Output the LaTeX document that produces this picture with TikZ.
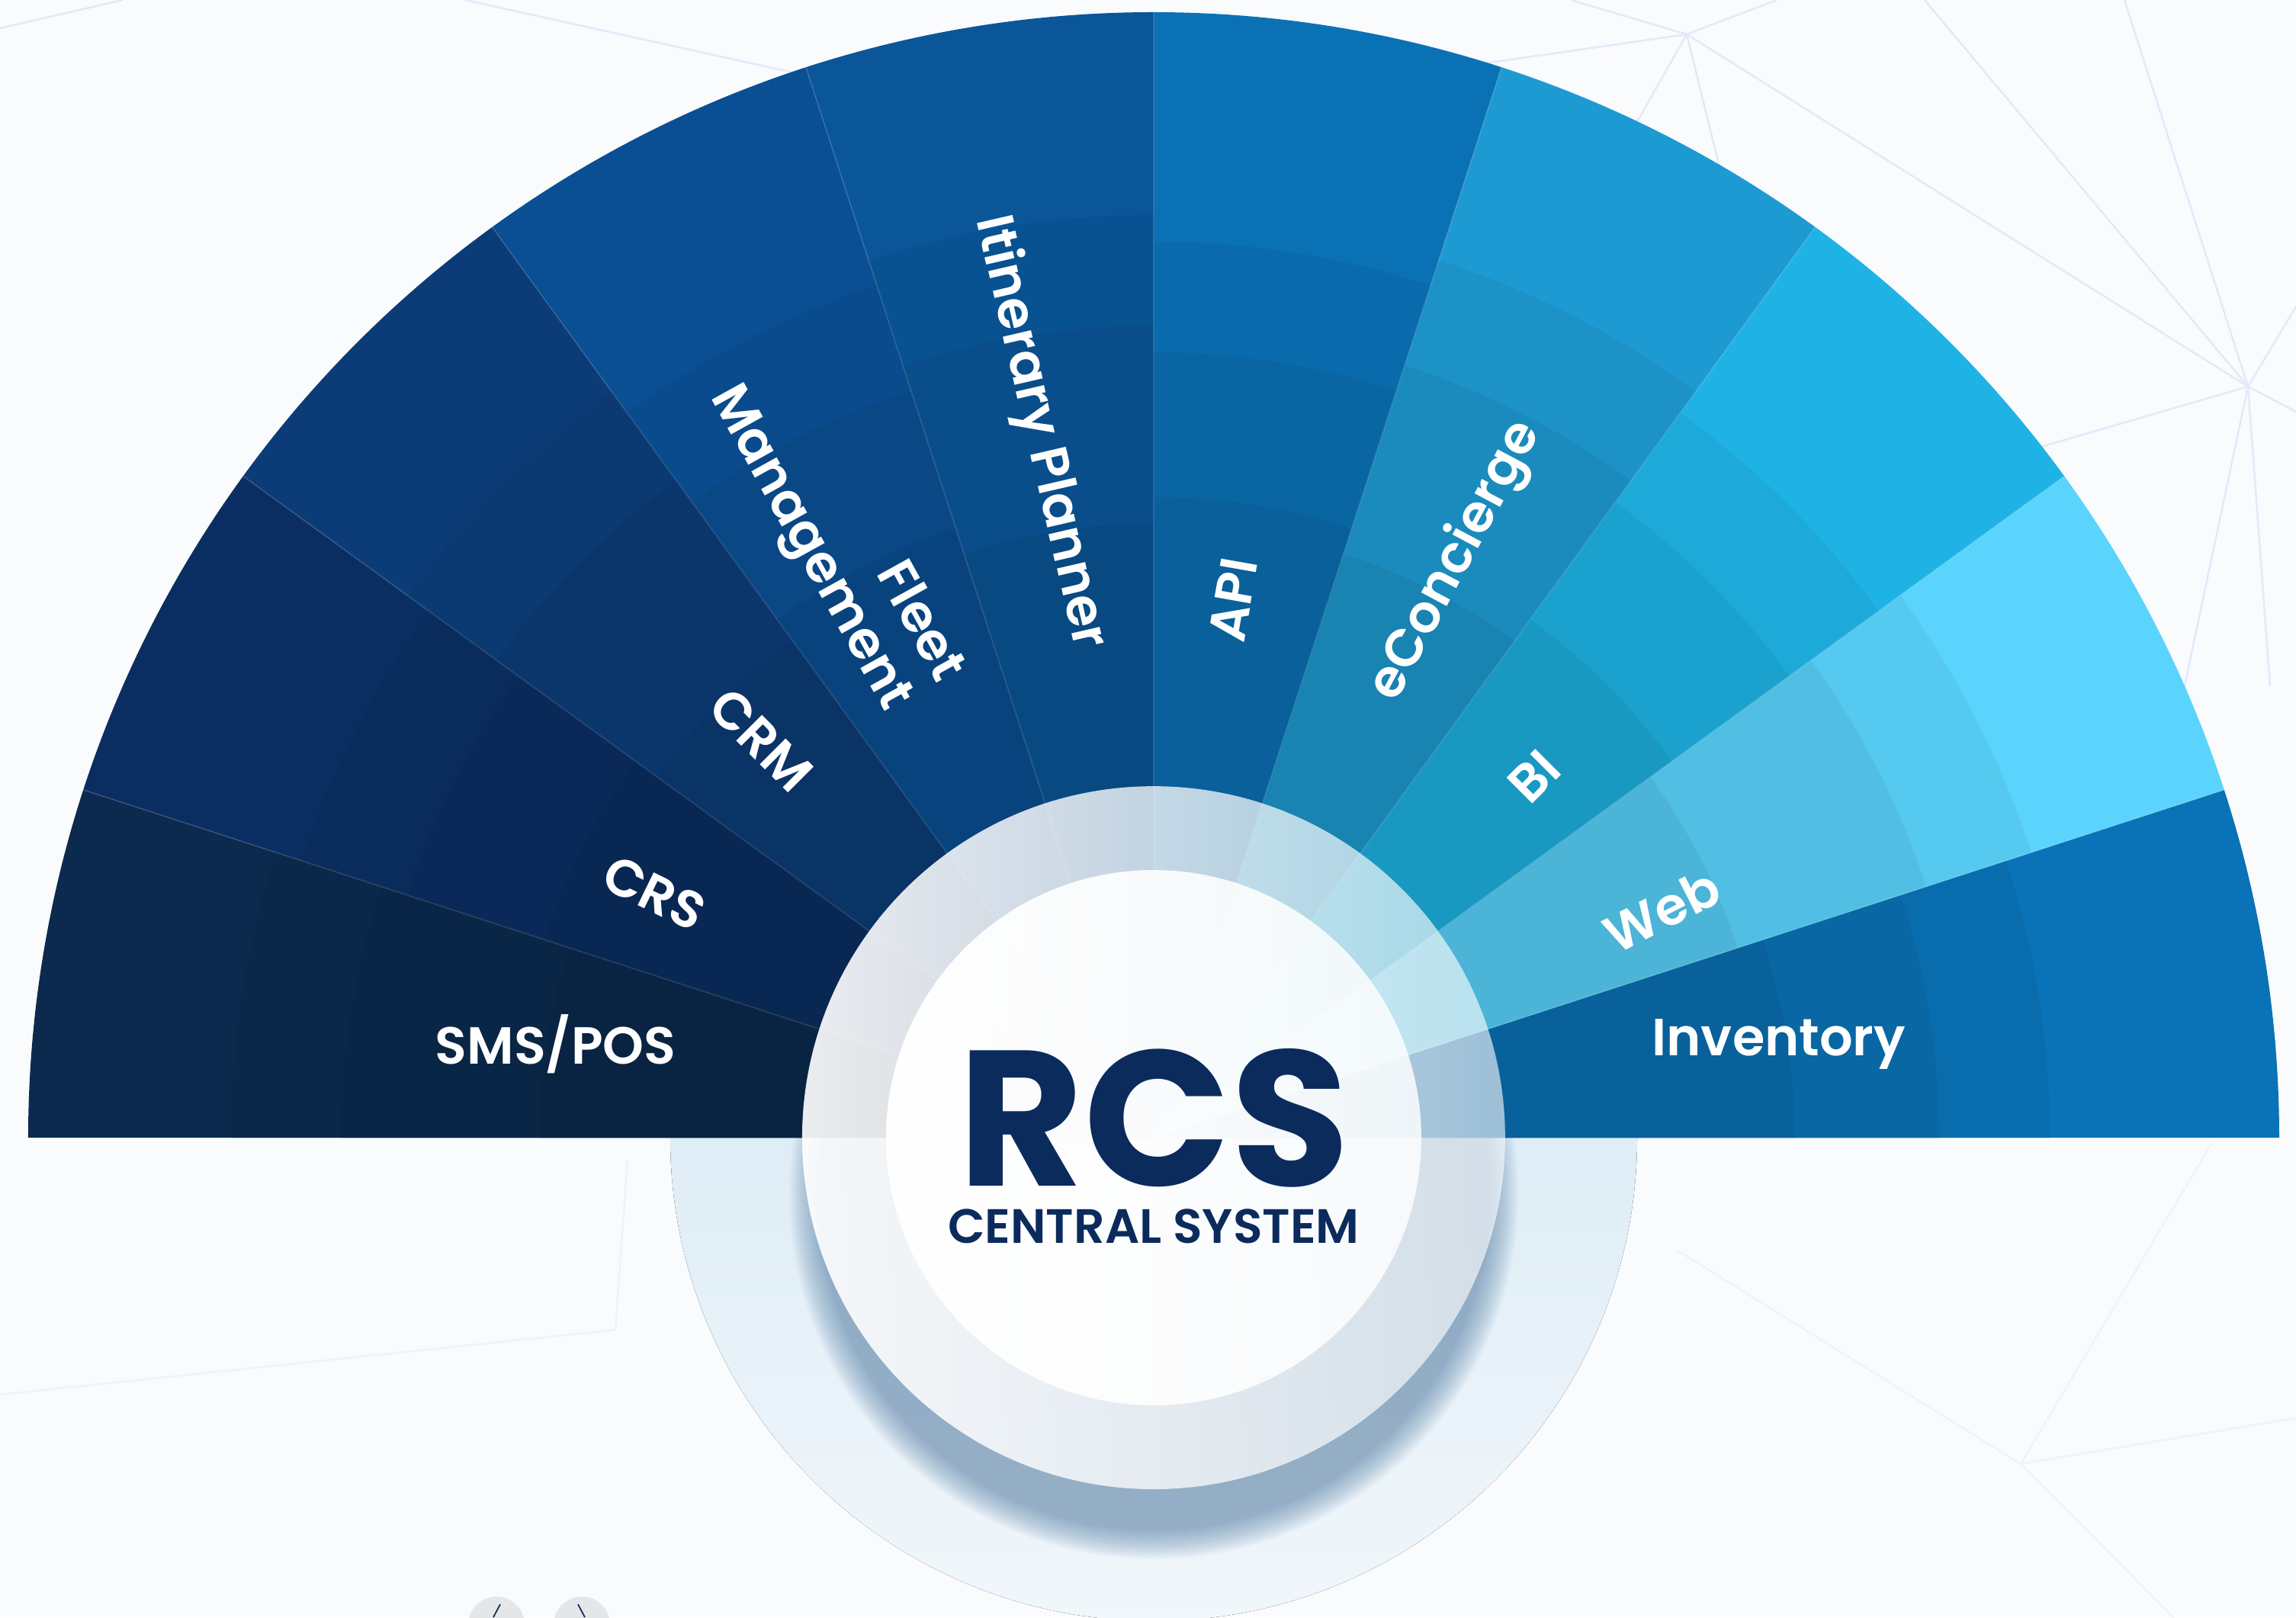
\documentclass[tikz,border=0pt]{standalone}
\usepackage{fontspec}
\setmainfont{Poppins}
\newfontfamily\semifont{Poppins SemiBold}
\usetikzlibrary{fadings}

\definecolor{bgwhite}{HTML}{FAFBFD}
\definecolor{meshline}{HTML}{E6E8F8}
\definecolor{meshfaint}{HTML}{F1F2FA}
\definecolor{navy}{HTML}{0B2B5C}
\definecolor{halo}{HTML}{CCE2F0}
\definecolor{halolow}{HTML}{F1F7FB}
\definecolor{shadowblue}{HTML}{4E7AA3}
\definecolor{navbtn}{HTML}{E5E6E8}
\definecolor{smscol}{HTML}{0B2A4E}
\definecolor{crscol}{HTML}{0B2E62}
\definecolor{crmcol}{HTML}{0C3C78}
\definecolor{fleetcol}{HTML}{0A4F94}
\definecolor{itincol}{HTML}{0A5699}
\definecolor{apicol}{HTML}{0B71B5}
\definecolor{econcol}{HTML}{1E9AD2}
\definecolor{bicol}{HTML}{1EB3E4}
\definecolor{webcol}{HTML}{5AD4FC}
\definecolor{invcol}{HTML}{0A72B6}

\tikzfading[name=ringfade, left color=transparent!8, right color=transparent!40]
\tikzfading[name=diskfade, left color=transparent!2, right color=transparent!18]

\tikzset{
  wedgelabel/.style={text=white, font=\semifont\fontsize{19.5}{22}\selectfont, inner sep=0pt},
  mesh/.style={meshline, line width=0.7pt},
}

\begin{document}
\begin{tikzpicture}
  \useasboundingbox (-15.13,-6.29) rectangle (14.98,14.92);
  \fill[bgwhite] (-15.13,-6.29) rectangle (14.98,14.92);

  % faint mesh in the background
  \coordinate (m1) at (6.99,14.47);
  \coordinate (m2) at (14.35,9.85);
  \coordinate (m3) at (11.37,-4.28);
  \coordinate (m4) at (-7.06,-2.52);
  \draw[mesh] (m1) -- (m2);
  \draw[mesh] (m1) -- (-0.33,13.42);
  \draw[mesh] (m1) -- (8.17,14.92);
  \draw[mesh] (m1) -- (5.47,14.92);
  \draw[mesh] (m1) -- (5.37,11.62);
  \draw[mesh] (m1) -- (7.52,12.32);
  \draw[mesh] (m2) -- (12.73,14.92);
  \draw[mesh] (m2) -- (10.11,14.92);
  \draw[mesh] (m2) -- (10.47,8.72);
  \draw[mesh] (m2) -- (14.98,9.52);
  \draw[mesh] (m2) -- (14.98,10.90);
  \draw[mesh] (m2) -- (14.64,5.92);
  \draw[mesh] (m2) -- (12.90,3.00);
  \draw[mesh] (-15.13,14.55) -- (-13.52,14.92);
  \draw[mesh] (-9.03,14.92) -- (-4.60,13.94);
  \draw[mesh, meshfaint] (-15.13,-3.37) -- (m4) -- (-6.90,-0.30);
  \draw[mesh, meshfaint] (m3) -- (6.87,-1.48);
  \draw[mesh, meshfaint] (m3) -- (14.98,-3.68);
  \draw[mesh, meshfaint] (m3) -- (13.37,-6.29);
  \draw[mesh, meshfaint] (m3) -- (13.87,-0.08);

  % halo and soft shadow under the hub
  \fill[top color=halo, middle color=halo, bottom color=halolow] (0,0) circle (6.34);
  \foreach \k in {0,...,19}
    \fill[shadowblue, opacity=0.035] (0,-0.75) circle ({4.78-0.02*\k});

  % the fan: ten wedges of 18 degrees, darker bands towards the hub
  \foreach \col [count=\i from 0] in {invcol,webcol,bicol,econcol,apicol,itincol,fleetcol,crmcol,crscol,smscol} {
    \pgfmathsetmacro\a{18*\i}
    \pgfmathsetmacro\off{0.35*mod(\i,2)}
    \pgfmathsetmacro\ra{11.75+\off}
    \pgfmathsetmacro\rb{10.3+\off}
    \pgfmathsetmacro\rc{8.4-\off}
    \fill[\col] (0,0) -- (\a:14.76) arc[start angle=\a, delta angle=18, radius=14.76] -- cycle;
    \fill[\col!95!black] (0,0) -- (\a:\ra) arc[start angle=\a, delta angle=18, radius=\ra] -- cycle;
    \fill[\col!90!black] (0,0) -- (\a:\rb) arc[start angle=\a, delta angle=18, radius=\rb] -- cycle;
    \fill[\col!85!black] (0,0) -- (\a:\rc) arc[start angle=\a, delta angle=18, radius=\rc] -- cycle;
  }
  \foreach \i in {1,...,9}
    \draw[white, opacity=0.12, line width=0.5pt] (0,0) -- ({18*\i}:14.76);

  \node[wedgelabel] (smspos) at (171.1:7.94) {SMS/POS};
  \node[wedgelabel, rotate=-26] (crs) at (153.9:7.29) {CRS};
  \node[wedgelabel, rotate=-45] (crm) at (134.6:7.33) {CRM};
  \node[wedgelabel, rotate=-61, align=right] (fleet) at (117.9:8.95) {Fleet\\Management};
  \node[wedgelabel, rotate=-77] (itinerary) at (99.2:9.37) {Itinerary Planner};
  \node[wedgelabel, rotate=80] (api) at (81.6:7.13) {API};
  \node[wedgelabel, rotate=62] (econcierge) at (62.3:8.54) {eConcierge};
  \node[wedgelabel, rotate=45] (bi) at (43.5:6.88) {BI};
  \node[wedgelabel, rotate=27] (web) at (24.1:7.30) {Web};
  \node[wedgelabel] (inventory) at (8.5:8.29) {Inventory};

  % hub
  \fill[white, path fading=ringfade] (0,0) circle (4.61);
  \fill[white, path fading=diskfade] (0,0) circle (3.51);
  \node[text=navy, font=\bfseries\fontsize{72}{72}\selectfont, inner sep=0pt] (rcs) at (0,0.26) {RCS};
  \node[text=navy, font=\semifont\fontsize{18}{18}\selectfont, inner sep=0pt] (central) at (0,-1.16) {CENTRAL SYSTEM};

  % slider buttons at the bottom edge
  \fill[navbtn] (-8.62,-6.39) circle (0.37);
  \fill[navbtn] (-7.50,-6.39) circle (0.37);
  \draw[navy, line width=0.5pt] (-8.57,-6.12) -- (-8.66,-6.29);
  \draw[navy, line width=0.5pt] (-7.55,-6.12) -- (-7.46,-6.29);
\end{tikzpicture}
\end{document}
